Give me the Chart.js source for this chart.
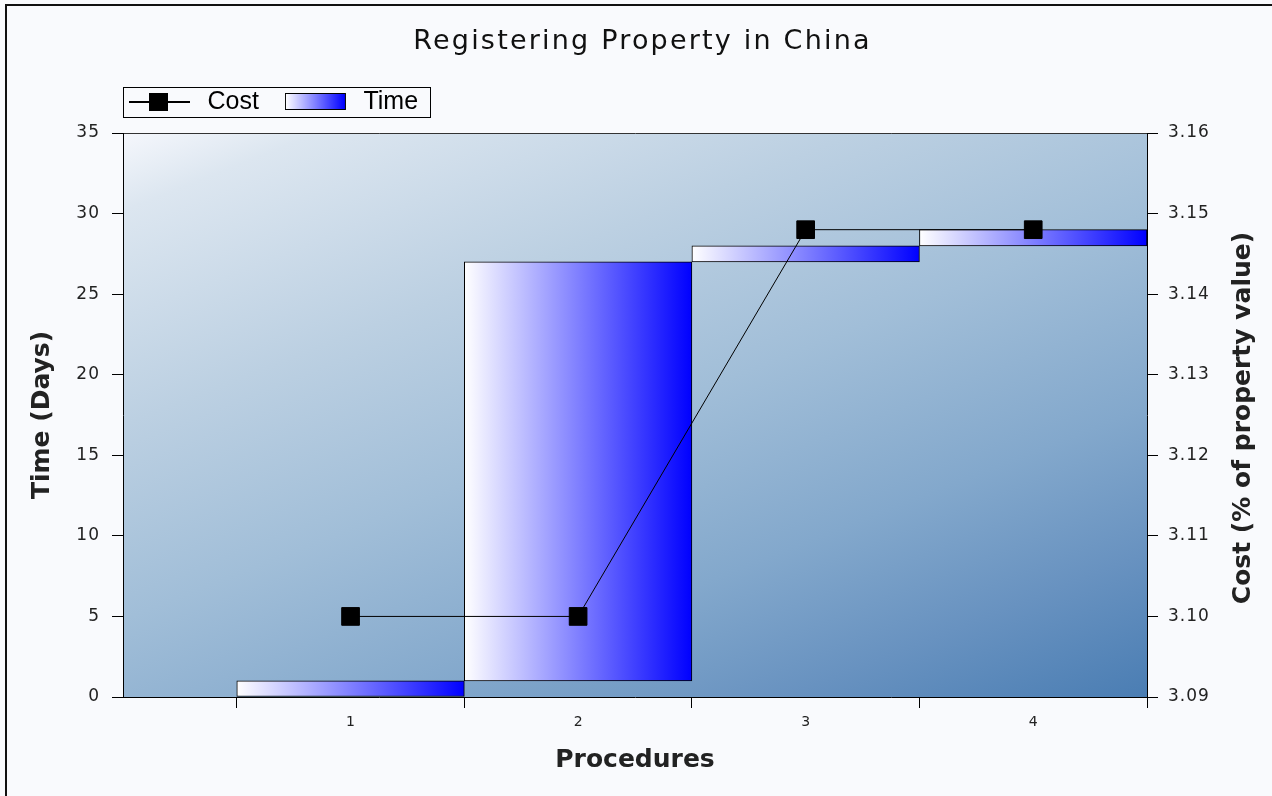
<!DOCTYPE html>
<html>
<head>
<meta charset="utf-8">
<title>Registering Property in China</title>
<script src="https://cdn.jsdelivr.net/npm/chart.js@4.4.1/dist/chart.umd.min.js"></script>
<style>
  html, body { margin: 0; padding: 0; background: #f9fafd; }
  canvas { display: block; }
</style>
</head>
<body>
<canvas id="chart" width="1272" height="796"></canvas>
<script>
// Procedures and their time spans (days) and cumulative cost (% of property value)
const procedures = [1, 2, 3, 4];
const procedureLabels = ['1', '2', '3', '4'];
const timeStart = [0, 1, 27, 28];
const timeEnd = [1, 27, 28, 29];
const costValues = [3.10, 3.10, 3.148, 3.148];
const timeTicks = [0, 5, 10, 15, 20, 25, 30, 35];
const costTicks = [3.09, 3.10, 3.11, 3.12, 3.13, 3.14, 3.15, 3.16];

const SANS = '"Liberation Sans", Arial, Helvetica, sans-serif';
const WIDE = '"DejaVu Sans", Verdana, sans-serif';
const LEGEND_FONT_SIZE = 25;
const LEGEND_GAP = 26;

// Legend samples: a line with a square marker, and a white-to-blue bar swatch
function makeCostSample() {
  const c = document.createElement('canvas');
  c.width = 66; c.height = 20;
  const g = c.getContext('2d');
  g.fillStyle = '#000';
  g.fillRect(0, 9, 61, 2);
  g.fillRect(20, 1, 19, 18);
  return c;
}
function makeTimeSample() {
  const c = document.createElement('canvas');
  c.width = 66; c.height = 18;
  const g = c.getContext('2d');
  g.fillStyle = '#000';
  g.fillRect(0, 0, 61, 17);
  const gr = g.createLinearGradient(1, 0, 60, 0);
  gr.addColorStop(0, '#ffffff');
  gr.addColorStop(1, '#0000ff');
  g.fillStyle = gr;
  g.fillRect(1, 1, 59, 15);
  return c;
}
const costSample = makeCostSample();
const timeSample = makeTimeSample();

// Horizontal white-to-blue fill across each bar's own width
function barGradient(context) {
  const chart = context.chart;
  const xs = chart.scales && chart.scales.x;
  if (!chart.chartArea || !xs || context.type !== 'data' || !context.raw) return '#8080ff';
  const v = context.raw.x;
  const l = xs.getPixelForValue(v - 0.5);
  const r = xs.getPixelForValue(v + 0.5);
  const g = chart.ctx.createLinearGradient(l, 0, r, 0);
  g.addColorStop(0, '#ffffff');
  g.addColorStop(1, '#0000ff');
  return g;
}

function withSpacing(obj, method, px) {
  const orig = obj && obj[method];
  if (!orig || orig._spaced) return;
  const wrapped = function (...args) {
    const c = this.ctx;
    const prev = c.letterSpacing;
    c.letterSpacing = px + 'px';
    try { return orig.apply(this, args); }
    finally { c.letterSpacing = prev || '0px'; }
  };
  wrapped._spaced = true;
  obj[method] = wrapped;
}

// Page background, frame and the shaded plot area
const backdrop = {
  id: 'backdrop',
  beforeDraw(chart) {
    const { ctx, chartArea: a, width, height } = chart;
    ctx.save();
    ctx.fillStyle = '#f9fafd';
    ctx.fillRect(0, 0, width, height);
    ctx.fillStyle = '#111';
    ctx.fillRect(5, 4, width - 5, 2);
    ctx.fillRect(5, 4, 2, height - 4);
    const dx = 0.37, dy = 0.93;
    const len = (a.right - a.left) * dx + (a.bottom - a.top) * dy;
    const g = ctx.createLinearGradient(a.left, a.top, a.left + dx * len, a.top + dy * len);
    g.addColorStop(0.00, '#f5f7fc');
    g.addColorStop(0.08, '#dce6f0');
    g.addColorStop(0.30, '#bcd0e2');
    g.addColorStop(0.50, '#a1bed8');
    g.addColorStop(0.70, '#83a8cc');
    g.addColorStop(0.85, '#6892c0');
    g.addColorStop(1.00, '#4a7db3');
    ctx.fillStyle = g;
    ctx.fillRect(a.left, a.top, a.right - a.left, a.bottom - a.top);
    ctx.restore();

    withSpacing(chart.titleBlock, 'draw', 2.2);
    withSpacing(chart.scales.y, 'drawLabels', 1);
    withSpacing(chart.scales.y1, 'drawLabels', 1);
  }
};

// Legend sits at the plot's left edge, title slightly right of centre
const placement = {
  id: 'placement',
  afterLayout(chart) {
    const a = chart.chartArea;
    const lg = chart.legend;
    if (lg) {
      const w = lg.right - lg.left;
      lg.left = a.left + 6 - LEGEND_GAP;
      lg.right = lg.left + w;
      lg.top += (a.top - 31) - (lg.top + LEGEND_GAP + LEGEND_FONT_SIZE / 2);
    }
    const tb = chart.titleBlock;
    if (tb) { tb.left += 6.5; tb.right += 6.5; }
  }
};

// Legend frame and the right-hand axis title (reads bottom to top)
const extras = {
  id: 'extras',
  afterDraw(chart) {
    const { ctx, chartArea: a } = chart;
    const lg = chart.legend;
    if (lg && lg.legendHitBoxes && lg.legendHitBoxes.length) {
      const hb = lg.legendHitBoxes;
      const last = hb[hb.length - 1];
      const cy = Math.round(hb[0].top + hb[0].height / 2);
      const right = Math.round(last.left + last.width + 12);
      ctx.save();
      ctx.strokeStyle = '#000';
      ctx.lineWidth = 1;
      ctx.strokeRect(a.left + 0.5, cy - 15 + 0.5, right - a.left, 30);
      ctx.restore();
    }
    const s = chart.scales.y1;
    ctx.save();
    ctx.translate(s.right - 29, (a.top + a.bottom) / 2 + 3);
    ctx.rotate(-Math.PI / 2);
    ctx.font = 'bold 25px ' + WIDE;
    ctx.fillStyle = '#222';
    ctx.textAlign = 'center';
    ctx.textBaseline = 'middle';
    ctx.fillText('Cost (% of property value)', 0, 0);
    ctx.restore();
  }
};

new Chart(document.getElementById('chart'), {
  type: 'bar',
  data: {
    datasets: [
      {
        type: 'line',
        label: 'Cost',
        data: procedures.map((p, i) => ({ x: p, y: costValues[i] })),
        xAxisID: 'x',
        yAxisID: 'y1',
        borderColor: '#000',
        borderWidth: 1,
        tension: 0,
        pointStyle: 'rect',
        pointRadius: 12.5,
        pointBackgroundColor: '#000',
        pointBorderColor: '#000',
        pointBorderWidth: 1,
        order: 1
      },
      {
        type: 'bar',
        label: 'Time',
        data: procedures.map((p, i) => ({ x: p, y: [timeStart[i], timeEnd[i]] })),
        xAxisID: 'x',
        yAxisID: 'y',
        backgroundColor: barGradient,
        borderColor: '#000',
        borderWidth: 1,
        borderSkipped: false,
        categoryPercentage: 1,
        barPercentage: 1,
        order: 2
      }
    ]
  },
  options: {
    responsive: false,
    maintainAspectRatio: false,
    devicePixelRatio: 1,
    animation: false,
    events: [],
    layout: { padding: 0 },
    plugins: {
      tooltip: { enabled: false },
      title: {
        display: true,
        text: 'Registering Property in China',
        color: '#111',
        font: { family: WIDE, size: 27, weight: 'normal', lineHeight: 1.2 },
        padding: { top: 25.8, bottom: 13.8 }
      },
      legend: {
        display: true,
        position: 'top',
        align: 'start',
        labels: {
          usePointStyle: true,
          pointStyleWidth: 66,
          padding: LEGEND_GAP,
          color: '#111',
          font: { family: SANS, size: LEGEND_FONT_SIZE },
          generateLabels: () => [
            { text: 'Cost', pointStyle: costSample, fillStyle: '#000', strokeStyle: '#000', lineWidth: 0, hidden: false, datasetIndex: 0 },
            { text: 'Time', pointStyle: timeSample, fillStyle: '#00f', strokeStyle: '#000', lineWidth: 0, hidden: false, datasetIndex: 1 }
          ]
        }
      }
    },
    scales: {
      x: {
        type: 'linear',
        position: 'bottom',
        min: 0,
        max: 4.5,
        offset: false,
        afterBuildTicks: s => { s.ticks = procedures.map(v => ({ value: v })); },
        afterFit: s => { s.height = 99; },
        grid: {
          offset: true,
          drawOnChartArea: false,
          drawTicks: true,
          tickLength: 11,
          tickColor: '#000',
          tickWidth: 1
        },
        border: { display: true, color: '#000', width: 1 },
        ticks: {
          autoSkip: false,
          maxRotation: 0,
          padding: 6,
          color: '#222',
          font: { family: WIDE, size: 14 },
          callback: v => procedureLabels[procedures.indexOf(v)] ?? ''
        },
        title: {
          display: true,
          text: 'Procedures',
          color: '#222',
          font: { family: WIDE, size: 25, weight: 'bold' },
          padding: { top: 0, bottom: 21 }
        }
      },
      y: {
        type: 'linear',
        position: 'left',
        min: 0,
        max: 35,
        afterBuildTicks: s => { s.ticks = timeTicks.map(v => ({ value: v })); },
        afterFit: s => { s.width = 123; },
        grid: {
          drawOnChartArea: true,
          color: c => (c.tick && c.tick.value === 35 ? '#333' : 'rgba(0,0,0,0)'),
          tickColor: '#000',
          tickLength: 11,
          lineWidth: 1
        },
        border: { display: true, color: '#000', width: 1 },
        ticks: {
          padding: 12,
          color: '#222',
          font: { family: WIDE, size: 17 },
          callback: v => String(v)
        },
        title: {
          display: true,
          text: 'Time (Days)',
          color: '#222',
          font: { family: WIDE, size: 25, weight: 'bold' },
          padding: { top: 27, bottom: 0 }
        }
      },
      y1: {
        type: 'linear',
        position: 'right',
        min: costTicks[0],
        max: costTicks[costTicks.length - 1],
        afterBuildTicks: s => { s.ticks = costTicks.map(v => ({ value: v })); },
        afterFit: s => { s.width = 125; },
        grid: {
          drawOnChartArea: false,
          tickColor: '#000',
          tickLength: 11
        },
        border: { display: true, color: '#000', width: 1 },
        ticks: {
          padding: 10,
          color: '#222',
          font: { family: WIDE, size: 17 },
          callback: v => Number(v).toFixed(2)
        }
      }
    }
  },
  plugins: [backdrop, placement, extras]
});
</script>
</body>
</html>
